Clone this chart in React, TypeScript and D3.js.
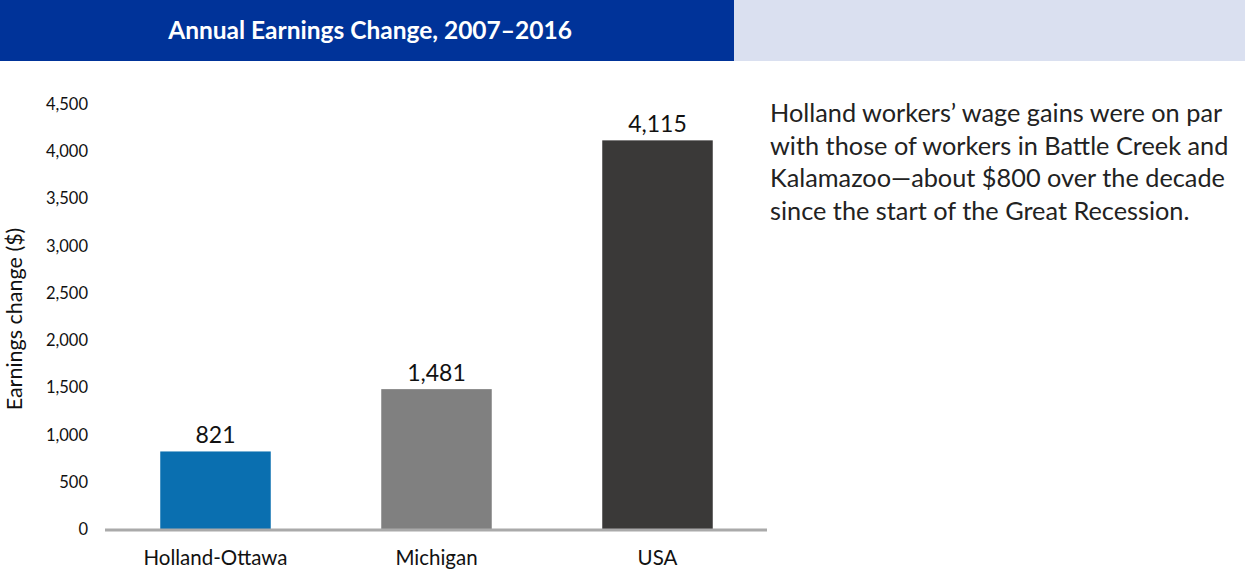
import React from "react";
import * as d3 from "d3";

const categories = ["Holland-Ottawa", "Michigan", "USA"];
const values = [821, 1481, 4115];
const valueLabels = ["821", "1,481", "4,115"];
const barColors = ["#0a6fb0", "#808080", "#3a3938"];
const yTicks = [0, 500, 1000, 1500, 2000, 2500, 3000, 3500, 4000, 4500];
const title = "Annual Earnings Change, 2007–2016";
const yTitle = "Earnings change ($)";
const noteLines = [
  "Holland workers’ wage gains were on par",
  "with those of workers in Battle Creek and",
  "Kalamazoo—about $800 over the decade",
  "since the start of the Great Recession.",
];

const W = 1247;
const H = 571;
const FONT = "Lato, 'Open Sans', sans-serif";

export default function App() {
  const x = d3.scaleBand<string>().domain(categories).range([105, 768]).paddingInner(0.5).paddingOuter(0.25);
  const y = d3.scaleLinear().domain([0, 4500]).range([529, 104]);
  const fmt = d3.format(",");
  return (
    <svg width={W} height={H} style={{ position: "absolute", left: 0, top: 0 }} fontFamily={FONT}>
      <rect x={0} y={0} width={W} height={H} fill="#fff" />
      <rect x={0} y={0} width={734} height={61} fill="#003399" />
      <rect x={734} y={0} width={511} height={61} fill="#dae0f0" />
      <text x={370} y={39} textAnchor="middle" fill="#fff" fontWeight="bold" fontSize={24.5}>{title}</text>

      {yTicks.map((t) => (
        <text key={t} x={88} y={y(t) + 6} textAnchor="end" fontSize={16.5} fill="#111">{fmt(t)}</text>
      ))}
      <text transform={`translate(22,${319}) rotate(-90)`} textAnchor="middle" fontSize={21.5} fill="#111">{yTitle}</text>

      {categories.map((c, i) => (
        <g key={c}>
          <rect x={x(c)!} y={y(values[i])} width={x.bandwidth()} height={y(0) - y(values[i])} fill={barColors[i]} />
          <text x={x(c)! + x.bandwidth() / 2} y={y(values[i]) - 8} textAnchor="middle" fontSize={23} fill="#111">{valueLabels[i]}</text>
          <text x={x(c)! + x.bandwidth() / 2} y={565} textAnchor="middle" fontSize={20.5} fill="#111">{c}</text>
        </g>
      ))}
      <line x1={105} x2={767} y1={530} y2={530} stroke="#aaaaaa" strokeWidth={3} />

      {noteLines.map((l, i) => (
        <text key={i} x={770} y={122 + i * 32.5} fontSize={25.3} fill="#222">{l}</text>
      ))}
    </svg>
  );
}
